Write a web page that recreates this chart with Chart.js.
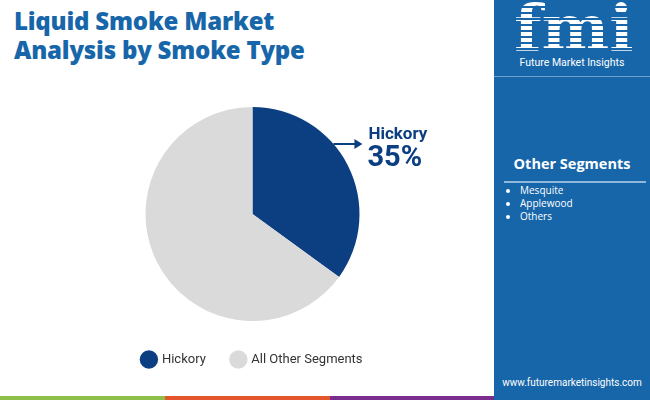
<!DOCTYPE html>
<html lang="en">
<head>
    <meta charset="UTF-8">
    <title>Liquid Smoke Market Analysis by Smoke Type</title>
    <script src="https://cdn.jsdelivr.net/npm/chart.js"></script>
    <style>
        body { margin: 0; width: 650px; height: 400px; position: relative; overflow: hidden; background: #fff; font-family: "Open Sans", sans-serif; }
        .title { position: absolute; left: 14px; top: 6px; color: #1766a9; font-size: 24px; font-weight: 800; line-height: 29px; letter-spacing: -0.2px; }
        .chart-box { position: absolute; left: 0; top: 90px; width: 493px; height: 300px; }
        .side { position: absolute; left: 494px; top: 0; width: 156px; height: 396px; background: #1766a9; color: #fff; }
        .logo { position: absolute; left: 0; top: 0; width: 156px; height: 76px; border-bottom: 1px solid #6fa3cf; }
        .fmi { position: absolute; left: 20px; top: -10px; font-family: "DejaVu Serif", serif; font-weight: bold; font-size: 64px; letter-spacing: 0px;
               background: repeating-linear-gradient(#fff 0 4px, #1766a9 4px 6px); -webkit-background-clip: text; color: transparent; }
        .fmi-sub { position: absolute; left: 0; width: 156px; top: 56px; text-align: center; font-family: Roboto, sans-serif; font-size: 10.5px; }
        .seg-title { position: absolute; left: 0; width: 156px; top: 154px; text-align: center; font-weight: 700; font-size: 14.5px; }
        .seg-line { position: absolute; left: 10px; width: 142px; top: 181px; height: 2px; background: #8fb8dc; }
        .seg-list { position: absolute; left: 10px; top: 184px; margin: 0; padding: 0 0 0 16px; font-size: 10px; line-height: 13px; }
        .url { position: absolute; left: 0; width: 156px; top: 377px; text-align: center; font-family: Roboto, sans-serif; font-size: 10px; }
        .stripe { position: absolute; top: 396px; height: 4px; }
    </style>
</head>
<body>
    <div class="title">Liquid Smoke Market<br>Analysis by Smoke Type</div>
    <div class="chart-box"><canvas id="smokeChart"></canvas></div>
    <div class="side">
        <div class="logo">
            <div class="fmi">fmi</div>
            <div class="fmi-sub">Future Market Insights</div>
        </div>
        <div class="seg-title">Other Segments</div>
        <div class="seg-line"></div>
        <ul class="seg-list">
            <li>Mesquite</li>
            <li>Applewood</li>
            <li>Others</li>
        </ul>
        <div class="url">www.futuremarketinsights.com</div>
    </div>
    <div class="stripe" style="left:0;width:165px;background:#8cc04b"></div>
    <div class="stripe" style="left:165px;width:165px;background:#e4572e"></div>
    <div class="stripe" style="left:330px;width:164px;background:#7b2d8e"></div>
    <div class="stripe" style="left:494px;width:156px;background:#1766a9"></div>

    <script>
        const segments = ['Hickory', 'All Other Segments'];
        const shares = [35, 65];
        const sliceColors = ['#0c3f82', '#dadada'];

        // arrow + label pointing at the Hickory slice
        const calloutPlugin = {
            id: 'callout',
            afterDatasetsDraw(chart) {
                const arc = chart.getDatasetMeta(0).data[0];
                const ctx = chart.ctx;
                const ang = arc.startAngle + (arc.endAngle - arc.startAngle) * 0.39;
                const x0 = arc.x + Math.cos(ang) * arc.outerRadius;
                const y0 = arc.y + Math.sin(ang) * arc.outerRadius;
                const x1 = x0 + 29;
                ctx.save();
                ctx.strokeStyle = '#0c3f82';
                ctx.fillStyle = '#0c3f82';
                ctx.lineWidth = 2;
                ctx.beginPath();
                ctx.moveTo(x0, y0);
                ctx.lineTo(x1 - 6, y0);
                ctx.stroke();
                ctx.beginPath();
                ctx.moveTo(x1, y0);
                ctx.lineTo(x1 - 8, y0 - 5);
                ctx.lineTo(x1 - 8, y0 + 5);
                ctx.closePath();
                ctx.fill();
                ctx.font = 'bold 17px Roboto';
                ctx.textBaseline = 'middle';
                ctx.fillText(segments[0], x1 + 6, y0 - 9);
                ctx.font = 'bold 29px Roboto';
                ctx.fillText(shares[0] + '%', x1 + 5, y0 + 15);
                ctx.restore();
            }
        };

        new Chart(document.getElementById('smokeChart'), {
            type: 'pie',
            data: {
                labels: segments,
                datasets: [{
                    data: shares,
                    backgroundColor: sliceColors,
                    borderWidth: 0,
                    radius: 107
                }]
            },
            options: {
                responsive: true,
                maintainAspectRatio: false,
                animation: false,
                layout: { padding: { top: 11, bottom: 14, left: 12, right: 0 } },
                plugins: {
                    legend: {
                        position: 'bottom',
                        labels: {
                            usePointStyle: true,
                            pointStyle: 'circle',
                            boxWidth: 20,
                            boxHeight: 20,
                            padding: 26,
                            color: '#333',
                            font: { family: 'Roboto', size: 13 }
                        }
                    },
                    tooltip: { enabled: false }
                }
            },
            plugins: [calloutPlugin]
        });
    </script>
</body>
</html>
